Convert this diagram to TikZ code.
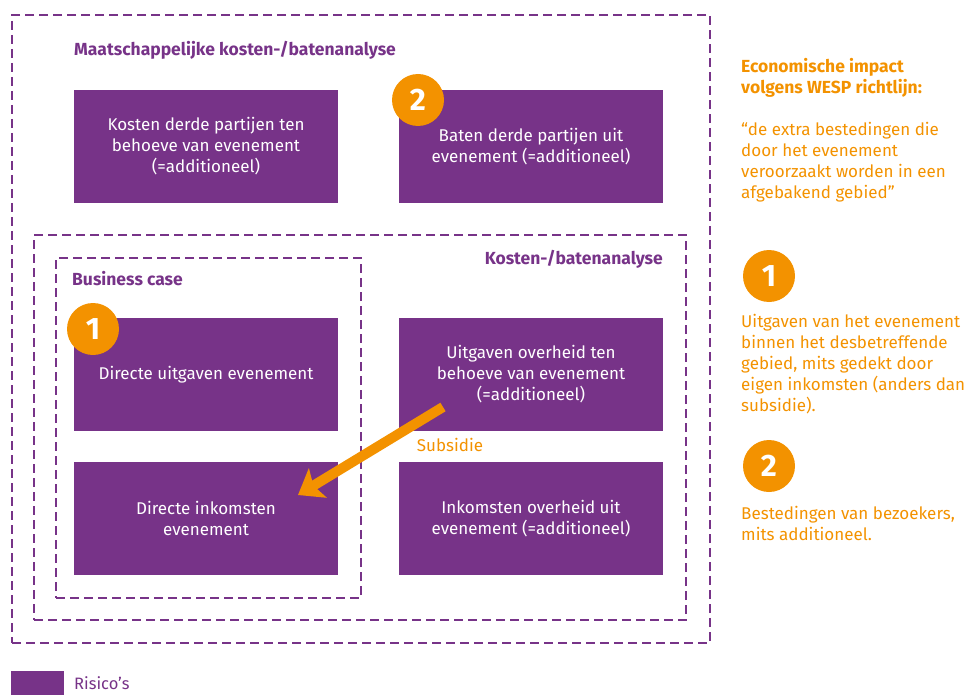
\documentclass[tikz,border=0pt]{standalone}
\usepackage{fontspec}
\setmainfont{Fira Sans}
\usetikzlibrary{arrows.meta,positioning,calc}
\definecolor{paars}{HTML}{773388}
\definecolor{oranje}{HTML}{F39200}

\begin{document}
\begin{tikzpicture}[x=1pt,y=-1pt,node distance=61pt,
    blok/.style={fill=paars,text=white,minimum width=264pt,minimum height=113pt,inner sep=0pt,outer sep=0pt,align=center,font=\fontsize{17}{21}\selectfont},
    kader/.style={draw=paars,line width=2.5pt,dash pattern=on 9pt off 5pt,anchor=north west,inner sep=0pt,outer sep=0pt},
    kop/.style={text=paars,inner sep=0pt,font=\bfseries\fontsize{17.5}{21}\selectfont},
    nummer/.style={circle,fill=oranje,text=white,minimum size=52pt,inner sep=0pt,font=\bfseries\fontsize{31}{31}\selectfont},
    uitleg/.style={text=oranje,align=left,anchor=north west,inner sep=0pt,font=\fontsize{17}{21}\selectfont},
    subsidie/.style={draw=oranje,line width=10pt,-{Stealth[length=23pt,width=34pt,inset=5pt]}}]
  \useasboundingbox (0,0) rectangle (976,695);
  \node[kader,minimum width=698pt,minimum height=628pt] (mkba) at (12,15) {};
  \node[kader,minimum width=652pt,minimum height=385pt] (kba) at (34,235) {};
  \node[kader,minimum width=305pt,minimum height=340pt] (bc) at (56,258) {};
  \node[kop,anchor=west] (mkbatitel) at (74,50) {Maatschappelijke kosten-/batenanalyse};
  \node[kop,anchor=east] (kbatitel) at (663,259) {Kosten-/batenanalyse};
  \node[kop,anchor=west] (bctitel) at (72,279) {Business case};

  \node[blok] (A) at (206,146.5) {Kosten derde partijen ten\\behoeve van evenement\\(=additioneel)};
  \node[blok,right=61pt of A] (B) {Baten derde partijen uit\\evenement (=additioneel)};
  \node[blok,below=115pt of A] (C) {Directe uitgaven evenement};
  \node[blok,right=61pt of C] (D) {Uitgaven overheid ten\\behoeve van evenement\\(=additioneel)};
  \node[blok,below=31pt of C] (E) {Directe inkomsten\\evenement};
  \node[blok,right=61pt of E] (F) {Inkomsten overheid uit\\evenement (=additioneel)};
  \node[nummer] (n2) at ($(B.north west)+(19,10)$) {2};
  \node[nummer] (n1) at ($(C.north west)+(19,11)$) {1};

  \coordinate (vanD) at ($(D.south west)+(44,-24)$);
  \coordinate (naarE) at ($(E.north east)+(-40,33)$);
  \draw[subsidie] (vanD) -- (naarE);
  \node[text=oranje,font=\fontsize{17}{21}\selectfont] (subs) at (450,445) {Subsidie};

  \node[uitleg,font=\bfseries\fontsize{17.5}{21}\selectfont] (wesp) at (741,58) {Economische impact\\volgens WESP richtlijn:};
  \node[uitleg] (citaat) at (741,122) {“de extra bestedingen die\\door het evenement\\veroorzaakt worden in een\\afgebakend gebied”};
  \node[nummer] (r1) at (769,276) {1};
  \node[uitleg] (u1) at (741,314) {Uitgaven van het evenement\\binnen het desbetreffende\\gebied, mits gedekt door\\eigen inkomsten (anders dan\\subsidie).};
  \node[nummer] (r2) at (769,466) {2};
  \node[uitleg] (u2) at (741,506) {Bestedingen van bezoekers,\\mits additioneel.};

  \node[fill=paars,minimum width=53pt,minimum height=30pt,inner sep=0pt,anchor=north west] (legenda) at (11,671) {};
  \node[text=paars,anchor=west,inner sep=0pt,font=\fontsize{16.5}{21}\selectfont] (risico) at (74,683.5) {Risico’s};
\end{tikzpicture}
\end{document}
